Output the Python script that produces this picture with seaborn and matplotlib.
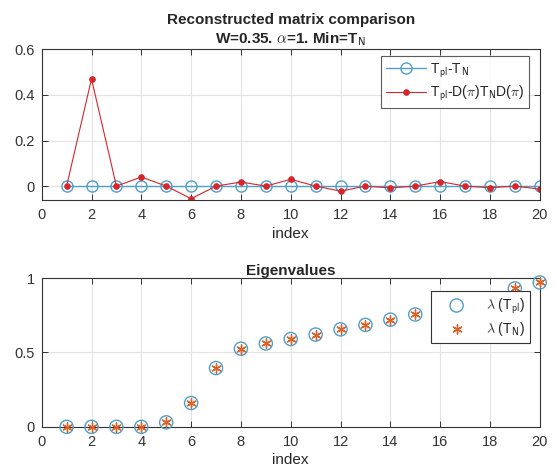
import numpy as np
import pandas as pd
import matplotlib
matplotlib.use("Agg")
import matplotlib.pyplot as plt
import seaborn as sns

index = list(range(1, 21))
diff_plain = [0.0] * 20
diff_perm = [0.0, 0.47, 0.0, 0.04, 0.0, -0.055, 0.0, 0.018, 0.0, 0.03,
             0.0, -0.022, 0.0, -0.008, 0.0, 0.02, 0.0, -0.007, 0.0, -0.013]
eig_pl = [0.0, 0.0, 0.0, 0.0, 0.03, 0.16, 0.395, 0.525, 0.56, 0.59,
          0.62, 0.655, 0.685, 0.72, 0.755, 0.79, 0.82, 0.86, 0.93, 0.97]
eig_n = eig_pl[:]

sns.set_style("white")
plt.rcParams['font.family'] = ['Liberation Sans', 'DejaVu Sans']
plt.rcParams['mathtext.fontset'] = 'cm'

blue = '#4f9fc8'
red = '#d7262b'
orange = '#d9622b'

fig = plt.figure(figsize=(5.59, 4.74), dpi=100)
ax1 = fig.add_axes([0.0746, 0.578, 0.891, 0.318])
ax2 = fig.add_axes([0.0746, 0.0995, 0.891, 0.314])

df1 = pd.DataFrame({'index': index, 'plain': diff_plain, 'perm': diff_perm})
sns.lineplot(data=df1, x='index', y='plain', ax=ax1, color=blue, lw=1.0,
             marker='o', markersize=8, markerfacecolor='none',
             markeredgecolor=blue, markeredgewidth=1.0,
             label=r'T$_{\mathsf{pl}}$-T$_{\mathsf{N}}$')
sns.lineplot(data=df1, x='index', y='perm', ax=ax1, color=red, lw=0.8,
             marker='o', markersize=4, markerfacecolor=red, markeredgecolor=red,
             label=r'T$_{\mathsf{pl}}$-D($\pi$)T$_{\mathsf{N}}$D($\pi$)')

ax1.set_xlim(0, 20)
ax1.set_ylim(-0.061, 0.6)
ax1.set_xticks(range(0, 21, 2))
ax1.set_yticks([0, 0.2, 0.4, 0.6])
ax1.set_yticklabels(['0', '0.2', '0.4', '0.6'])
ax1.set_xlabel('index', fontsize=11, labelpad=3)
ax1.set_ylabel('')
ax1.set_title('Reconstructed matrix comparison\nW=0.35. $\\alpha$=1. Min=T$_{\\mathsf{N}}$',
              fontsize=11, fontweight='bold', pad=4, linespacing=1.3)

df2 = pd.DataFrame({'index': index, 'pl': eig_pl, 'n': eig_n})
sns.scatterplot(data=df2, x='index', y='pl', ax=ax2, marker='o', s=90,
                facecolor='none', edgecolor=blue, linewidth=1.0,
                label=r'$\lambda$ (T$_{\mathsf{pl}}$)', clip_on=False, zorder=3)
sns.scatterplot(data=df2, x='index', y='n', ax=ax2, marker=(6, 2, 0), s=45,
                color=orange, edgecolor=orange, linewidth=1.0,
                label=r'$\lambda$ (T$_{\mathsf{N}}$)', clip_on=False, zorder=3)
ax2.set_xlim(0, 20)
ax2.set_ylim(0, 1)
ax2.set_xticks(range(0, 21, 2))
ax2.set_yticks([0, 0.5, 1])
ax2.set_yticklabels(['0', '0.5', '1'])
ax2.set_xlabel('index', fontsize=11, labelpad=3)
ax2.set_ylabel('')
ax2.set_title('Eigenvalues', fontsize=11, fontweight='bold', pad=2)

for ax in (ax1, ax2):
    ax.grid(True, color='#e3e3e3', lw=0.8)
    ax.set_axisbelow(True)
    for sp in ax.spines.values():
        sp.set_visible(True)
        sp.set_color('#333333')
        sp.set_linewidth(0.8)
    ax.tick_params(direction='in', length=4, width=0.7, color='#333333',
                   labelsize=10.5, labelcolor='#333333', top=True, right=True,
                   bottom=True, left=True)
    ax.tick_params(axis='x', pad=6)
    ax.tick_params(axis='y', pad=5)

leg1 = ax1.legend(loc='upper right', bbox_to_anchor=(0.979, 0.953), fontsize=10,
                  frameon=True, fancybox=False, edgecolor='#333333',
                  handlelength=2.9, borderpad=0.35, labelspacing=0.3,
                  handletextpad=0.3, borderaxespad=0)
leg1.get_frame().set_linewidth(0.8)
leg2 = ax2.legend(loc='upper right', bbox_to_anchor=(0.981, 0.91), fontsize=10,
                  frameon=True, fancybox=False, edgecolor='#333333',
                  handlelength=3.0, borderpad=0.35, labelspacing=0.3,
                  handletextpad=0.6, framealpha=1, borderaxespad=0)
leg2.get_frame().set_linewidth(0.8)
leg2.set_zorder(10)

fig.savefig('out.png', dpi=100)
